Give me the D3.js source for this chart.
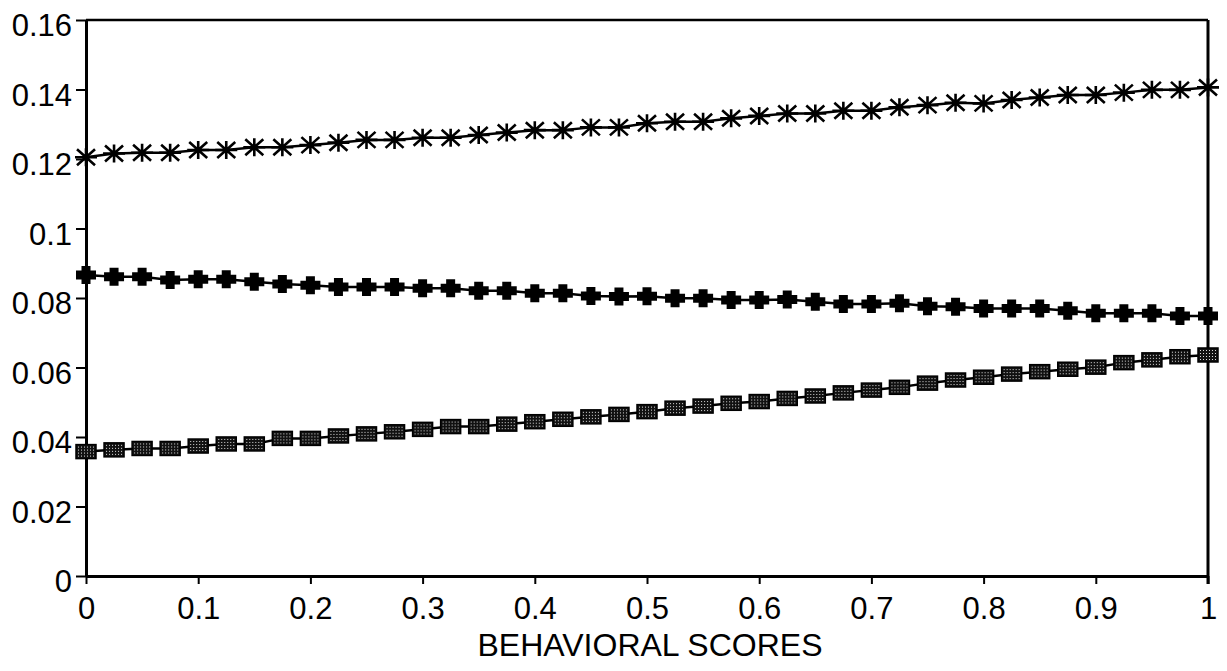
<!DOCTYPE html>
<html>
<head>
<meta charset="utf-8">
<script src="https://cdn.jsdelivr.net/npm/d3@7"></script>
<style>
  body { margin: 0; background: #fff; }
  svg { display: block; font-family: "Liberation Sans", Arial, sans-serif; }
</style>
</head>
<body>
<svg id="chart" width="1227" height="671"></svg>
<script>
// x positions (behavioral score)
const scores = [0, 0.025, 0.05, 0.075, 0.1, 0.125, 0.15, 0.175, 0.2, 0.225,
  0.25, 0.275, 0.3, 0.325, 0.35, 0.375, 0.4, 0.425, 0.45, 0.475,
  0.5, 0.525, 0.55, 0.575, 0.6, 0.625, 0.65, 0.675, 0.7, 0.725,
  0.75, 0.775, 0.8, 0.825, 0.85, 0.875, 0.9, 0.925, 0.95, 0.975, 1];

// top line, asterisk markers
const asteriskValues = [0.1205, 0.1216, 0.1218, 0.1218, 0.1226, 0.1226, 0.1234, 0.1234, 0.1240, 0.1247,
  0.1255, 0.1255, 0.1261, 0.1261, 0.1269, 0.1276, 0.1283, 0.1283, 0.1291, 0.1291,
  0.1303, 0.1307, 0.1307, 0.1317, 0.1324, 0.1331, 0.1331, 0.1339, 0.1339, 0.1349,
  0.1355, 0.1362, 0.1360, 0.1370, 0.1377, 0.1384, 0.1384, 0.1391, 0.1399, 0.1399, 0.1406];

// middle line, plus markers
const plusValues = [0.0866, 0.0861, 0.0861, 0.0852, 0.0854, 0.0854, 0.0847, 0.0840, 0.0837, 0.0832,
  0.0832, 0.0832, 0.0828, 0.0828, 0.0821, 0.0821, 0.0814, 0.0814, 0.0806, 0.0804,
  0.0805, 0.0799, 0.0799, 0.0794, 0.0794, 0.0796, 0.0789, 0.0783, 0.0783, 0.0785,
  0.0776, 0.0775, 0.0770, 0.0770, 0.0770, 0.0763, 0.0756, 0.0756, 0.0756, 0.0748, 0.0748];

// bottom line, square markers
const squareValues = [0.0358, 0.0363, 0.0367, 0.0367, 0.0374, 0.0380, 0.0380, 0.0396, 0.0396, 0.0403,
  0.0409, 0.0415, 0.0422, 0.0430, 0.0430, 0.0437, 0.0444, 0.0451, 0.0458, 0.0465,
  0.0473, 0.0483, 0.0489, 0.0497, 0.0502, 0.0511, 0.0518, 0.0527, 0.0535, 0.0543,
  0.0555, 0.0564, 0.0572, 0.0581, 0.0588, 0.0595, 0.0601, 0.0614, 0.0622, 0.0631, 0.0636];

const yTicks = [0, 0.02, 0.04, 0.06, 0.08, 0.1, 0.12, 0.14, 0.16];
const yTickLabels = ["0", "0.02", "0.04", "0.06", "0.08", "0.1", "0.12", "0.14", "0.16"];
const xTicks = [0, 0.1, 0.2, 0.3, 0.4, 0.5, 0.6, 0.7, 0.8, 0.9, 1];
const xTickLabels = ["0", "0.1", "0.2", "0.3", "0.4", "0.5", "0.6", "0.7", "0.8", "0.9", "1"];
const xTitle = "BEHAVIORAL SCORES";

const svg = d3.select("#chart");
const plotLeft = 86, plotRight = 1208, plotTop = 20, plotBottom = 576;

const x = d3.scaleLinear().domain([0, 1]).range([plotLeft, plotRight]);
const y = d3.scaleLinear().domain([0, 0.16]).range([plotBottom, plotTop]);

// dotted fill for the square markers
const defs = svg.append("defs");
const pat = defs.append("pattern")
  .attr("id", "dots").attr("patternUnits", "userSpaceOnUse")
  .attr("width", 3).attr("height", 3);
pat.append("rect").attr("width", 3).attr("height", 3).attr("fill", "#111");
pat.append("rect").attr("x", 1).attr("y", 1).attr("width", 1).attr("height", 1).attr("fill", "#ddd");

// frame (top and right sides)
svg.append("line").attr("x1", plotLeft).attr("x2", plotRight).attr("y1", plotTop).attr("y2", plotTop)
  .attr("stroke", "#000").attr("stroke-width", 2.5);
svg.append("line").attr("x1", plotRight).attr("x2", plotRight).attr("y1", plotTop).attr("y2", plotBottom + 8)
  .attr("stroke", "#000").attr("stroke-width", 3);

// axes
const yAxis = svg.append("g").attr("transform", `translate(${plotLeft},0)`)
  .call(d3.axisLeft(y).tickValues(yTicks).tickFormat((d, i) => yTickLabels[i])
    .tickSize(10).tickSizeOuter(0).tickPadding(4));
yAxis.selectAll("text").attr("font-size", 31).attr("fill", "#000").attr("dy", "0.5em")
  .attr("font-family", "Liberation Sans, Arial, sans-serif");

const xAxis = svg.append("g").attr("transform", `translate(0,${plotBottom})`)
  .call(d3.axisBottom(x).tickValues(xTicks).tickFormat((d, i) => xTickLabels[i])
    .tickSize(8).tickSizeOuter(0).tickPadding(13));
xAxis.selectAll("text").attr("font-size", 31).attr("fill", "#000")
  .attr("font-family", "Liberation Sans, Arial, sans-serif");

svg.selectAll(".domain").attr("stroke", "#000").attr("stroke-width", 3);
svg.selectAll(".tick line").attr("stroke", "#000").attr("stroke-width", 2);

svg.append("text")
  .attr("x", (plotLeft + plotRight) / 2 + 3).attr("y", 656)
  .attr("text-anchor", "middle")
  .attr("font-size", 32)
  .attr("font-family", "Liberation Sans, Arial, sans-serif")
  .text(xTitle);

// series
const series = [
  { name: "asterisk", values: asteriskValues },
  { name: "plus", values: plusValues },
  { name: "square", values: squareValues }
];

const line = d3.line().x((d, i) => x(scores[i])).y(d => y(d));

series.forEach(s => {
  svg.append("path").datum(s.values)
    .attr("d", line).attr("fill", "none")
    .attr("stroke", "#000").attr("stroke-width", 2.5);

  const g = svg.append("g").selectAll("g")
    .data(s.values).join("g")
    .attr("transform", (d, i) => `translate(${x(scores[i])},${y(d)})`);

  if (s.name === "asterisk") {
    g.append("path")
      .attr("d", "M-11,0H11M0,-9V9M-9,-8L9,8M-9,8L9,-8")
      .attr("stroke", "#000").attr("stroke-width", 2.6).attr("fill", "none");
  } else if (s.name === "plus") {
    g.append("path")
      .attr("d", "M-10,-4.5H-4.5V-9H4.5V-4.5H10V4.5H4.5V9H-4.5V4.5H-10Z")
      .attr("fill", "#000");
  } else {
    g.append("rect")
      .attr("x", -10).attr("y", -7).attr("width", 20).attr("height", 14)
      .attr("fill", "url(#dots)").attr("stroke", "#000").attr("stroke-width", 1.5);
  }
});
</script>
</body>
</html>
